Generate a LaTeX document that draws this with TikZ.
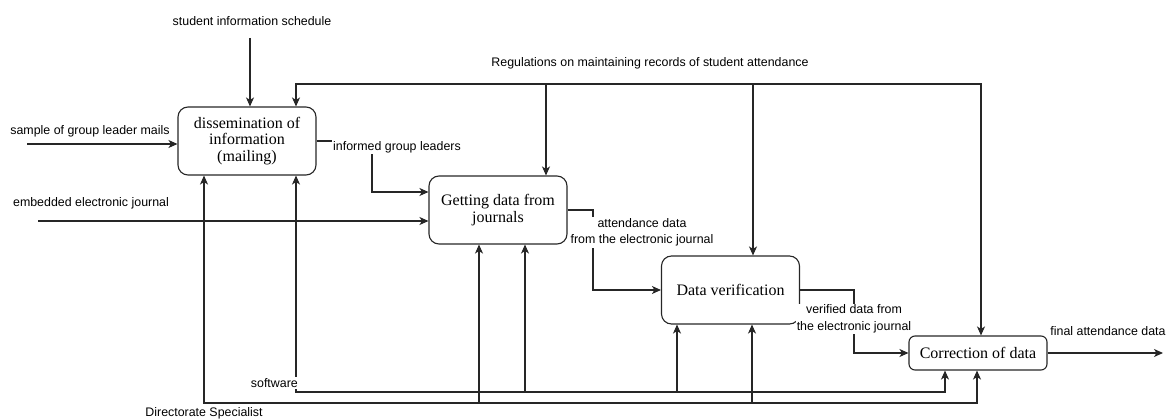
\documentclass[tikz,border=0pt]{standalone}
\usepackage{fontspec}
\setmainfont{Liberation Serif}
\setsansfont{Liberation Sans}
\usetikzlibrary{arrows.meta}
\begin{document}
\begin{tikzpicture}[x=1pt,y=-1pt,
 proc/.style={draw=black!85, line width=1.1pt, rounded corners=10pt, minimum width=138pt, minimum height=68pt, align=center, font=\fontsize{16}{16.5}\selectfont, inner sep=0pt},
 lbl/.style={font=\sffamily\fontsize{12.4}{16.5}\selectfont, inner sep=1pt, align=center, text=black},
 conn/.style={draw=black!85, line width=1.1pt},
 arr/.style={conn, -{Stealth[length=9pt,width=8pt,inset=2.5pt]}}]
\useasboundingbox (0,0) rectangle (1168,419);

% processes
\node[proc] (A) at (247,141) {dissemination of\\information\\(mailing)};
\node[proc] (B) at (498,210) {Getting data from\\journals};
\node[proc] (C) at (730.5,290) {Data verification};
\node[proc, minimum height=34pt, rounded corners=6pt] (D) at (978,353) {Correction of data};

% coordinates
\coordinate (sis) at (250,38);
\coordinate (sgl) at (27,144);
\coordinate (eej) at (38,221);
\coordinate (ab) at (372,192);
\coordinate (bc) at (593,290);
\coordinate (cd) at (854,353);
\coordinate (out) at (1163,353);
\coordinate (rl) at (296,84);
\coordinate (rb) at (546,84);
\coordinate (rc) at (753,84);
\coordinate (rr) at (981,84);
\coordinate (swl) at (296,392);
\coordinate (swb) at (525,392);
\coordinate (swc) at (677,392);
\coordinate (swr) at (945,392);
\coordinate (dl) at (204,403);
\coordinate (db) at (479,403);
\coordinate (dc) at (752,403);
\coordinate (dr) at (977,403);

% inputs
\draw[arr] (sis) -- (sis |- A.north);
\draw[arr] (sgl) -- (sgl -| A.west);
\draw[arr] (eej) -- (eej -| B.west);

% flow between processes
\draw[arr] (A.east) -| (ab) -- (ab -| B.west);
\draw[arr] (B.east) -| (bc) -- (bc -| C.west);
\draw[arr] (C.east) -| (cd) -- (cd -| D.west);
\draw[arr] (D.east) -- (out);

% regulations
\draw[arr] (rr) -- (rl) -- (rl |- A.north);
\draw[arr] (rl) -- (rr) -- (rr |- D.north);
\draw[arr] (rb) -- (rb |- B.north);
\draw[arr] (rc) -- (rc |- C.north);

% software
\draw[arr] (swr) -- (swl) -- (swl |- A.south);
\draw[arr] (swl) -- (swr) -- (swr |- D.south);
\draw[arr] (swb) -- (swb |- B.south);
\draw[arr] (swc) -- (swc |- C.south);

% directorate specialist
\draw[arr] (dr) -- (dl) -- (dl |- A.south);
\draw[arr] (dl) -- (dr) -- (dr |- D.south);
\draw[arr] (db) -- (db |- B.south);
\draw[arr] (dc) -- (dc |- C.south);

% labels
\node[lbl] (lsis) at (252,21) {student information schedule};
\node[lbl] (lreg) at (650,63) {Regulations on maintaining records of student attendance};
\node[lbl] (lsgl) at (90,131) {sample of group leader mails};
\node[lbl] (leej) at (91,203) {embedded electronic journal};
\node[lbl, fill=white] (lab) at (397,147) {informed group leaders};
\node[lbl, fill=white] (lbc) at (642,232.5) {attendance data\\from the electronic journal};
\node[lbl, fill=white] (lcd) at (854,319) {verified data from\\the electronic journal};
\node[lbl] (lout) at (1108,331) {final attendance data};
\node[lbl, fill=white, anchor=east] (lsw) at (299,383) {software};
\node[lbl] (ldir) at (204,413) {Directorate Specialist};
\end{tikzpicture}
\end{document}
